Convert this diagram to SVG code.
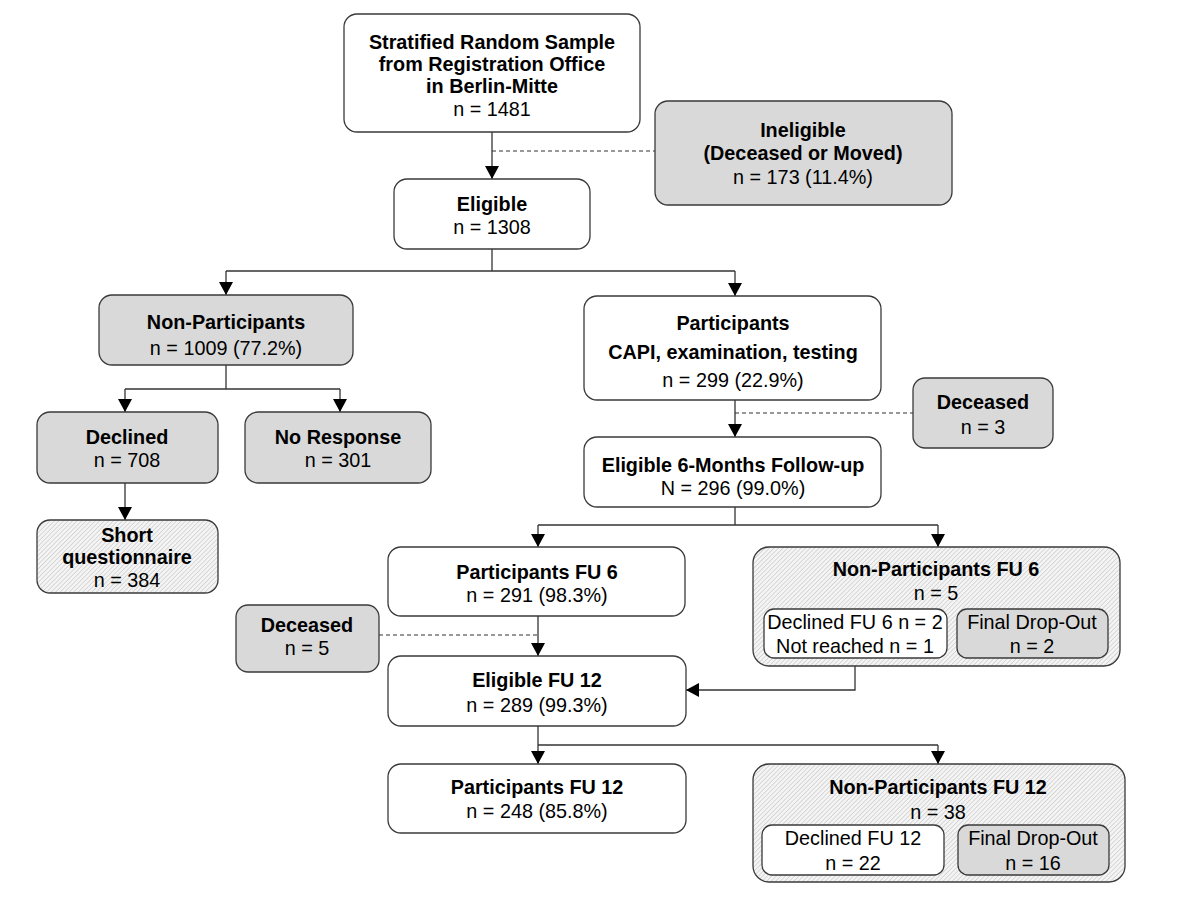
<svg xmlns="http://www.w3.org/2000/svg" width="1200" height="900" viewBox="0 0 1200 900">
<defs>
<pattern id="hatch" patternUnits="userSpaceOnUse" width="3.2" height="3.2" patternTransform="rotate(45)">
<rect width="3.2" height="3.2" fill="#f4f4f4"/>
<line x1="0" y1="0" x2="0" y2="3.2" stroke="#bdbdbd" stroke-width="1"/>
</pattern>
<marker id="arr" markerUnits="userSpaceOnUse" markerWidth="14" markerHeight="14" refX="13" refY="7" orient="auto">
<path d="M0,0 L13,7 L0,14 z" fill="#000"/>
</marker>
</defs>
<style>
.box{stroke:#3a3a3a;stroke-width:1.3;fill:#fff}
.gray{fill:#d9d9d9}
.hat{fill:url(#hatch)}
text{font-family:"Liberation Sans",Arial,sans-serif;font-size:19.8px;fill:#000;text-anchor:middle}
.b{font-weight:bold}
.ln{fill:none;stroke:#333;stroke-width:1.3}
.da{fill:none;stroke:#333;stroke-width:1.1;stroke-dasharray:4,3}
</style>
<rect width="1200" height="900" fill="#fff"/>

<g id="connectors">
<line class="ln" x1="492" y1="132" x2="492" y2="179" marker-end="url(#arr)"/>
<line class="da" x1="492" y1="151" x2="655" y2="151"/>
<polyline class="ln" points="492,249 492,271"/>
<polyline class="ln" points="226,271 735,271"/>
<line class="ln" x1="226" y1="271" x2="226" y2="295" marker-end="url(#arr)"/>
<line class="ln" x1="735" y1="271" x2="735" y2="296" marker-end="url(#arr)"/>
<polyline class="ln" points="226,365 226,389"/>
<polyline class="ln" points="125,389 340,389"/>
<line class="ln" x1="125" y1="389" x2="125" y2="412" marker-end="url(#arr)"/>
<line class="ln" x1="340" y1="389" x2="340" y2="412" marker-end="url(#arr)"/>
<line class="ln" x1="125" y1="483" x2="125" y2="520" marker-end="url(#arr)"/>
<line class="ln" x1="735" y1="400" x2="735" y2="437" marker-end="url(#arr)"/>
<line class="da" x1="735" y1="413" x2="913" y2="413"/>
<polyline class="ln" points="735,507 735,525"/>
<polyline class="ln" points="538,525 938,525"/>
<line class="ln" x1="538" y1="525" x2="538" y2="547" marker-end="url(#arr)"/>
<line class="ln" x1="938" y1="525" x2="938" y2="547" marker-end="url(#arr)"/>
<line class="ln" x1="538" y1="616" x2="538" y2="656" marker-end="url(#arr)"/>
<line class="da" x1="379" y1="635" x2="538" y2="635"/>
<polyline class="ln" points="855,658 855,690 686,690" marker-end="url(#arr)"/>
<polyline class="ln" points="538,726 538,745"/>
<polyline class="ln" points="538,745 938,745"/>
<line class="ln" x1="538" y1="745" x2="538" y2="764" marker-end="url(#arr)"/>
<line class="ln" x1="938" y1="745" x2="938" y2="764" marker-end="url(#arr)"/>
</g>

<g id="sample">
<rect class="box" x="344" y="14" width="296" height="118" rx="13"/>
<text class="b" x="492" y="49">Stratified Random Sample</text>
<text class="b" x="492" y="71">from Registration Office</text>
<text class="b" x="492" y="93">in Berlin-Mitte</text>
<text x="492" y="116">n = 1481</text>
</g>

<g id="ineligible">
<rect class="box gray" x="655" y="101" width="297" height="104" rx="13"/>
<text class="b" x="803" y="137">Ineligible</text>
<text class="b" x="803" y="160">(Deceased or Moved)</text>
<text x="803" y="184">n = 173 (11.4%)</text>
</g>

<g id="eligible">
<rect class="box" x="394" y="179" width="196" height="70" rx="13"/>
<text class="b" x="492" y="211">Eligible</text>
<text x="492" y="234">n = 1308</text>
</g>

<g id="nonparticipants">
<rect class="box gray" x="99" y="295" width="254" height="70" rx="13"/>
<text class="b" x="226" y="329">Non-Participants</text>
<text x="226" y="355">n = 1009 (77.2%)</text>
</g>

<g id="declined">
<rect class="box gray" x="37" y="412" width="181" height="71" rx="13"/>
<text class="b" x="127" y="444">Declined</text>
<text x="127" y="467">n = 708</text>
</g>

<g id="noresponse">
<rect class="box gray" x="245" y="412" width="186" height="71" rx="13"/>
<text class="b" x="338" y="444">No Response</text>
<text x="338" y="467">n = 301</text>
</g>

<g id="shortq">
<rect class="box hat" x="37" y="520" width="181" height="73" rx="13"/>
<text class="b" x="127" y="542">Short</text>
<text class="b" x="127" y="564">questionnaire</text>
<text x="127" y="587">n = 384</text>
</g>

<g id="participants">
<rect class="box" x="584" y="296" width="297" height="104" rx="13"/>
<text class="b" x="733" y="330">Participants</text>
<text class="b" x="733" y="359">CAPI, examination, testing</text>
<text x="733" y="387">n = 299 (22.9%)</text>
</g>

<g id="deceased3">
<rect class="box gray" x="913" y="378" width="140" height="70" rx="12"/>
<text class="b" x="983" y="409">Deceased</text>
<text x="983" y="434">n = 3</text>
</g>

<g id="eligible6">
<rect class="box" x="584" y="437" width="297" height="70" rx="13"/>
<text class="b" x="733" y="472">Eligible 6-Months Follow-up</text>
<text x="733" y="495">N = 296 (99.0%)</text>
</g>

<g id="participantsfu6">
<rect class="box" x="388" y="547" width="297" height="69" rx="13"/>
<text class="b" x="537" y="579">Participants FU 6</text>
<text x="537" y="602">n = 291 (98.3%)</text>
</g>

<g id="nonparticipantsfu6">
<rect class="box hat" x="753" y="547" width="367" height="119" rx="16"/>
<text class="b" x="936" y="576">Non-Participants FU 6</text>
<text x="936" y="600">n = 5</text>
<rect class="box" x="764" y="609" width="183" height="49" rx="10"/>
<text x="855" y="629">Declined FU 6 n = 2</text>
<text x="855" y="653">Not reached n = 1</text>
<rect class="box gray" x="957" y="609" width="151" height="49" rx="10"/>
<text x="1032" y="629">Final Drop-Out</text>
<text x="1032" y="653">n = 2</text>
</g>

<g id="deceased5">
<rect class="box gray" x="236" y="605" width="143" height="67" rx="12"/>
<text class="b" x="307" y="632">Deceased</text>
<text x="307" y="655">n = 5</text>
</g>

<g id="eligiblefu12">
<rect class="box" x="388" y="656" width="298" height="70" rx="13"/>
<text class="b" x="537" y="687">Eligible FU 12</text>
<text x="537" y="712">n = 289 (99.3%)</text>
</g>

<g id="participantsfu12">
<rect class="box" x="388" y="764" width="298" height="69" rx="13"/>
<text class="b" x="537" y="794">Participants FU 12</text>
<text x="537" y="818">n = 248 (85.8%)</text>
</g>

<g id="nonparticipantsfu12">
<rect class="box hat" x="753" y="764" width="372" height="118" rx="16"/>
<text class="b" x="938" y="794">Non-Participants FU 12</text>
<text x="938" y="819">n = 38</text>
<rect class="box" x="762" y="825" width="182" height="50" rx="10"/>
<text x="853" y="845">Declined FU 12</text>
<text x="853" y="870">n = 22</text>
<rect class="box gray" x="958" y="825" width="151" height="50" rx="10"/>
<text x="1033" y="845">Final Drop-Out</text>
<text x="1033" y="870">n = 16</text>
</g>
</svg>
